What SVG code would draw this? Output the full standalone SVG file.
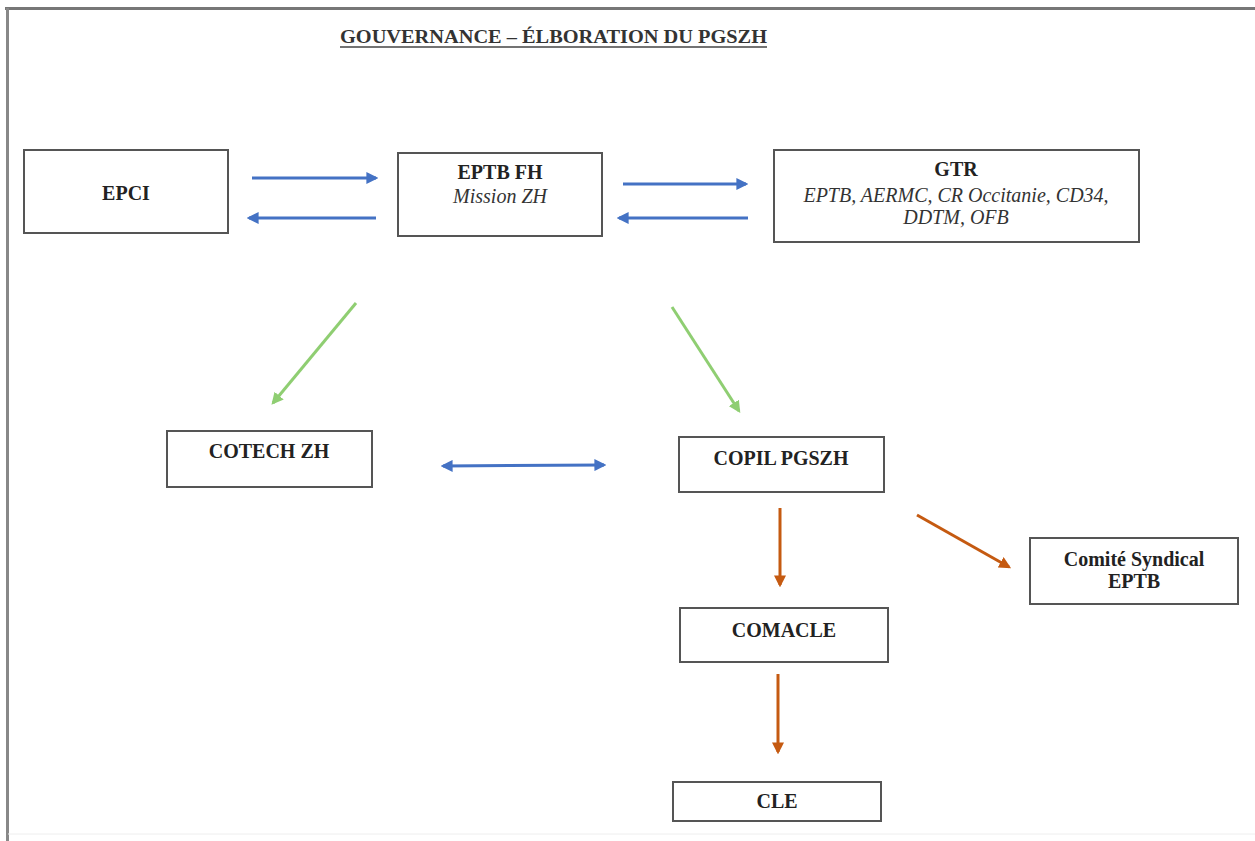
<svg xmlns="http://www.w3.org/2000/svg" width="1255" height="841" viewBox="0 0 1255 841">
<style>
.box{fill:#fff;stroke:#555;stroke-width:2}
.b{font-family:"Liberation Serif",serif;font-weight:bold;font-size:20px;fill:#222;text-anchor:middle}
.i{font-family:"Liberation Serif",serif;font-style:italic;font-size:20px;fill:#333;text-anchor:middle}
.blue{stroke:#4472c4;stroke-width:3;fill:none}
.green{stroke:#8fce72;stroke-width:3;fill:none}
.orange{stroke:#c55a11;stroke-width:3;fill:none}
</style>
<defs>
<marker id="ab" viewBox="0 0 10 10" refX="8" refY="5" markerWidth="4" markerHeight="4" orient="auto-start-reverse"><path d="M0,0 L10,5 L0,10 z" fill="#4472c4"/></marker>
<marker id="ag" viewBox="0 0 10 10" refX="8" refY="5" markerWidth="4" markerHeight="4" orient="auto"><path d="M0,0 L10,5 L0,10 z" fill="#8fce72"/></marker>
<marker id="ao" viewBox="0 0 10 10" refX="8" refY="5" markerWidth="4" markerHeight="4" orient="auto"><path d="M0,0 L10,5 L0,10 z" fill="#c55a11"/></marker>
</defs>
<rect width="1255" height="841" fill="#fff"/>
<g id="frame">
<line x1="5" y1="8.5" x2="1255" y2="8.5" stroke="#777" stroke-width="3"/>
<line x1="7.5" y1="8" x2="7.5" y2="841" stroke="#888" stroke-width="3"/>
<line x1="8" y1="834" x2="1255" y2="834" stroke="#eee" stroke-width="1"/>
</g>
<g id="title">
<text x="340" y="43" font-family="Liberation Serif, serif" font-weight="bold" font-size="19" fill="#333" textLength="427" lengthAdjust="spacingAndGlyphs">GOUVERNANCE – ÉLBORATION DU PGSZH</text>
<line x1="340" y1="47" x2="767" y2="47" stroke="#444" stroke-width="1.5"/>
</g>
<g id="connectors">
<line class="blue" x1="252" y1="178" x2="376" y2="178" marker-end="url(#ab)"/>
<line class="blue" x1="376" y1="218" x2="249" y2="218" marker-end="url(#ab)"/>
<line class="blue" x1="623" y1="184" x2="746" y2="184" marker-end="url(#ab)"/>
<line class="blue" x1="748" y1="218" x2="619" y2="218" marker-end="url(#ab)"/>
<line class="green" x1="356" y1="303" x2="273" y2="403" marker-end="url(#ag)"/>
<line class="green" x1="672" y1="307" x2="739" y2="411" marker-end="url(#ag)"/>
<line class="blue" x1="443" y1="466" x2="604" y2="465" marker-start="url(#ab)" marker-end="url(#ab)"/>
<line class="orange" x1="780" y1="508" x2="780" y2="585" marker-end="url(#ao)"/>
<line class="orange" x1="917" y1="515" x2="1009" y2="567" marker-end="url(#ao)"/>
<line class="orange" x1="778" y1="674" x2="778" y2="752" marker-end="url(#ao)"/>
</g>
<g id="epci">
<rect class="box" x="24" y="150" width="204" height="83"/>
<text class="b" x="126" y="200">EPCI</text>
</g>
<g id="eptb-fh">
<rect class="box" x="398" y="153" width="204" height="83"/>
<text class="b" x="500" y="179">EPTB FH</text>
<text class="i" x="500" y="203">Mission ZH</text>
</g>
<g id="gtr">
<rect class="box" x="774" y="150" width="365" height="92"/>
<text class="b" x="956" y="176">GTR</text>
<text class="i" x="956" y="202">EPTB, AERMC, CR Occitanie, CD34,</text>
<text class="i" x="956" y="224">DDTM, OFB</text>
</g>
<g id="cotech">
<rect class="box" x="167" y="431" width="205" height="56"/>
<text class="b" x="269" y="458">COTECH ZH</text>
</g>
<g id="copil">
<rect class="box" x="679" y="437" width="205" height="55"/>
<text class="b" x="781" y="465">COPIL PGSZH</text>
</g>
<g id="comite">
<rect class="box" x="1030" y="538" width="208" height="66"/>
<text class="b" x="1134" y="566">Comité Syndical</text>
<text class="b" x="1134" y="588">EPTB</text>
</g>
<g id="comacle">
<rect class="box" x="680" y="608" width="208" height="54"/>
<text class="b" x="784" y="637">COMACLE</text>
</g>
<g id="cle">
<rect class="box" x="673" y="782" width="208" height="39"/>
<text class="b" x="777" y="808">CLE</text>
</g>
</svg>
